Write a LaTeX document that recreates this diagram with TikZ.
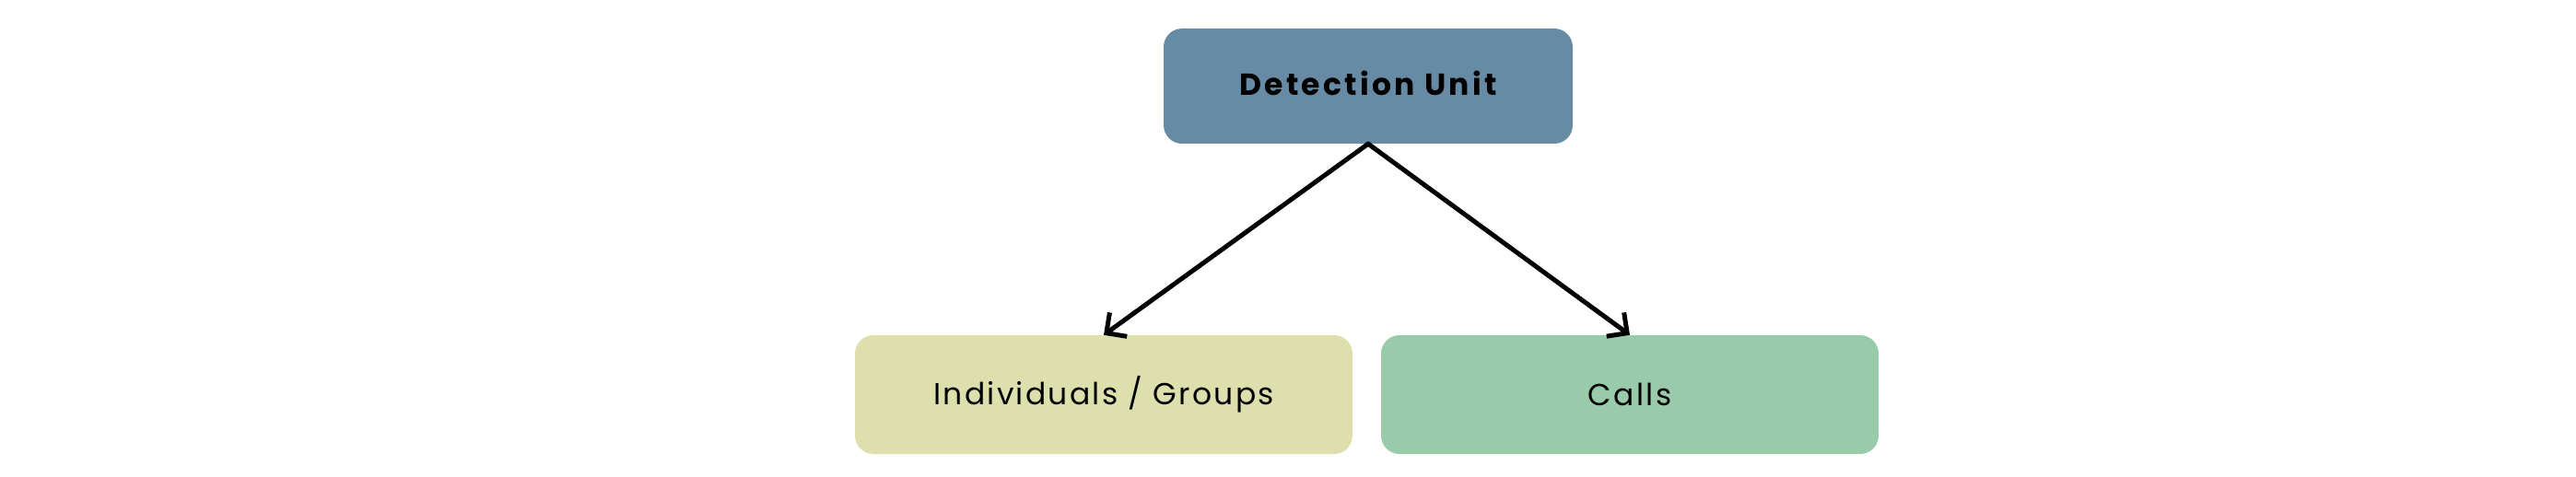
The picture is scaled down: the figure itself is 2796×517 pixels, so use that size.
\documentclass[tikz,border=0pt]{standalone}
\usepackage{fontspec}
\setmainfont{Poppins}
\usetikzlibrary{arrows.meta}
\definecolor{topblue}{RGB}{103,139,165}
\definecolor{leftgreen}{RGB}{221,223,172}
\definecolor{rightgreen}{RGB}{153,203,170}
\tikzset{
  box/.style={rectangle, rounded corners=20pt, inner sep=0pt, draw=none, text=black},
  conn/.style={line width=5pt, -{Straight Barb[length=16pt,width=32pt,line width=5pt]}, line cap=round, line join=round}
}
\begin{document}
\begin{tikzpicture}[x=1pt,y=1pt]
\useasboundingbox (0,0) rectangle (2796,517);
\node[box, fill=topblue, minimum width=444pt, minimum height=125pt, text depth=6pt, font=\fontsize{33}{40}\selectfont\bfseries\addfontfeatures{LetterSpace=10}] (top) at (1485,423.5) {Detection Unit};
\node[box, fill=leftgreen, minimum width=540pt, minimum height=129pt, font=\fontsize{33}{40}\selectfont\addfontfeatures{LetterSpace=7}] (left) at (1198,88.5) {Individuals / Groups};
\node[box, fill=rightgreen, minimum width=540pt, minimum height=129pt, font=\fontsize{33}{40}\selectfont\addfontfeatures{LetterSpace=7}] (right) at (1769,88.5) {Calls};
\draw[conn] (top.south) -- (left.north);
\draw[conn] (top.south) -- (right.north);
\end{tikzpicture}
\end{document}
